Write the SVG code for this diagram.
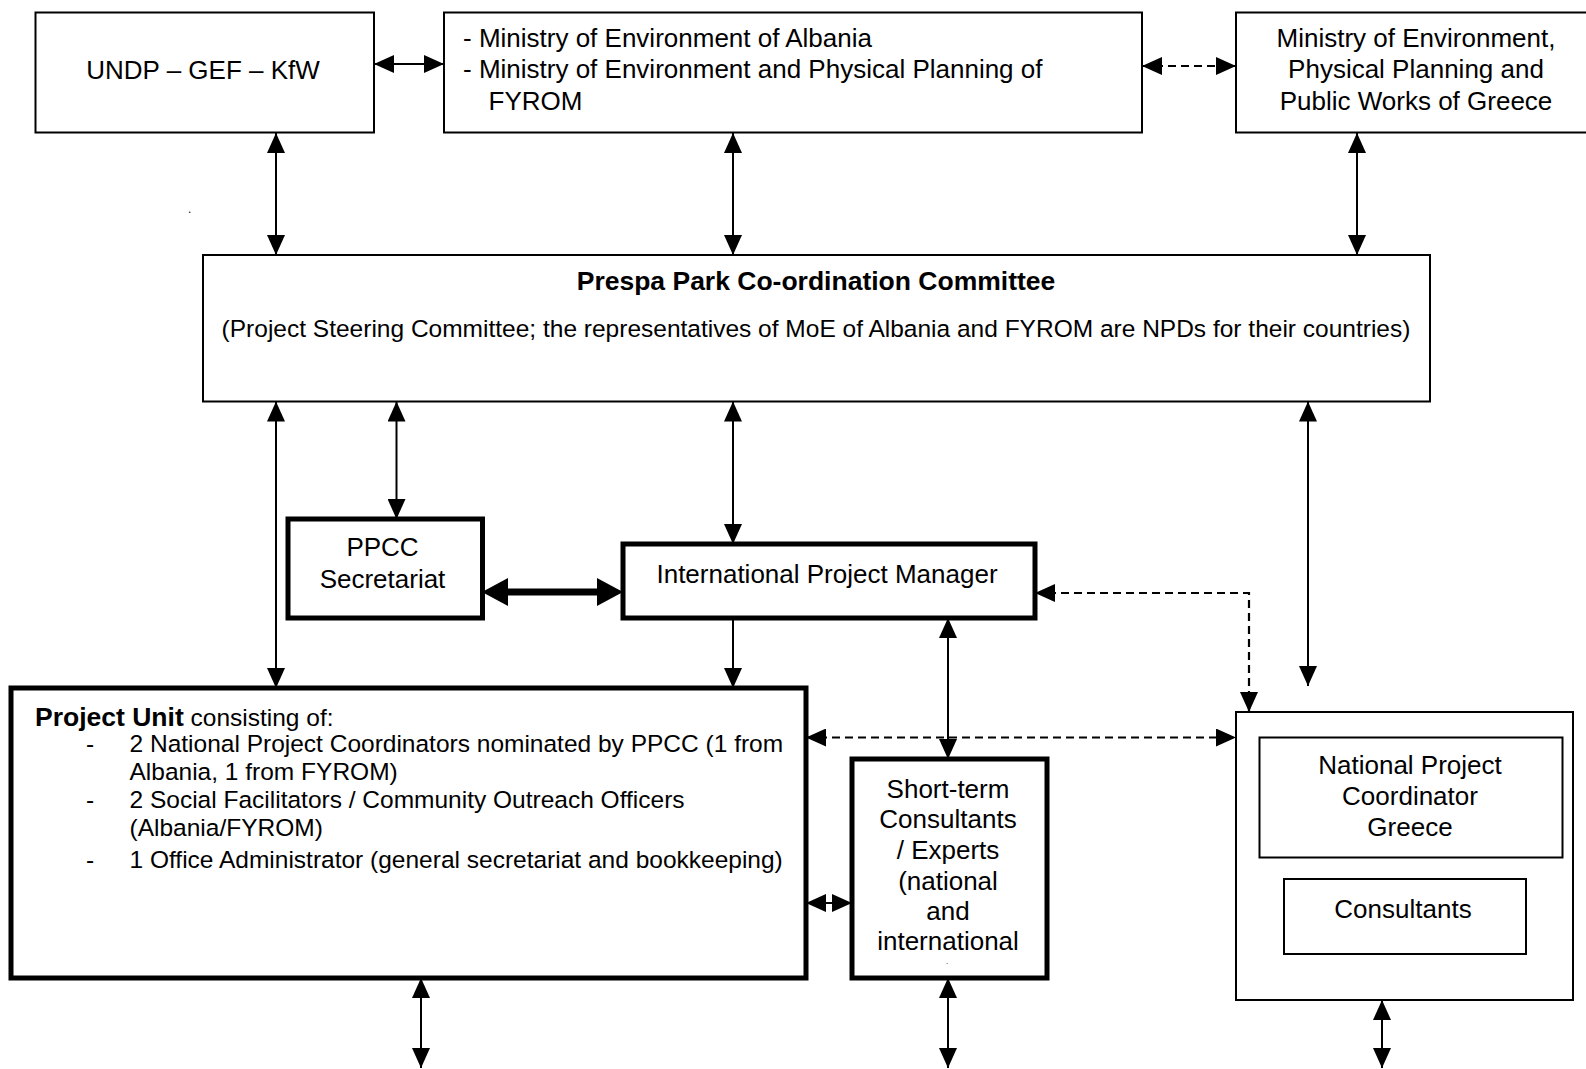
<svg xmlns="http://www.w3.org/2000/svg" width="1586" height="1069" viewBox="0 0 1586 1069">
<style>
text{font-family:"Liberation Sans",Arial,sans-serif;font-size:26px;fill:#000}
.b{font-weight:bold}
.c{text-anchor:middle}
.s{font-size:24.5px}
.thin{fill:#fff;stroke:#000;stroke-width:2}
.thick{fill:#fff;stroke:#000;stroke-width:5}
.ln{fill:none;stroke:#000;stroke-width:2}
.ds{fill:none;stroke:#000;stroke-width:2.2;stroke-dasharray:8 5}
</style>
<defs>
<marker id="ah" markerUnits="userSpaceOnUse" markerWidth="20" markerHeight="18" refX="20" refY="9" orient="auto-start-reverse">
<path d="M0,0 L20,9 L0,18 z" fill="#000"/>
</marker>
</defs>
<rect width="1586" height="1069" fill="#fff"/>
<g id="connectors">
<line class="ln" x1="374" y1="64" x2="444" y2="64" marker-start="url(#ah)" marker-end="url(#ah)"/>
<line class="ds" x1="1142" y1="66" x2="1236" y2="66" marker-start="url(#ah)" marker-end="url(#ah)"/>
<line class="ln" x1="276" y1="133" x2="276" y2="255" marker-start="url(#ah)" marker-end="url(#ah)"/>
<line class="ln" x1="733" y1="133" x2="733" y2="255" marker-start="url(#ah)" marker-end="url(#ah)"/>
<line class="ln" x1="1357" y1="133" x2="1357" y2="255" marker-start="url(#ah)" marker-end="url(#ah)"/>
<line class="ln" x1="276" y1="401.5" x2="276" y2="688" marker-start="url(#ah)" marker-end="url(#ah)"/>
<line class="ln" x1="396.5" y1="401.5" x2="396.5" y2="519" marker-start="url(#ah)" marker-end="url(#ah)"/>
<line class="ln" x1="733" y1="401.5" x2="733" y2="544" marker-start="url(#ah)" marker-end="url(#ah)"/>
<line class="ln" x1="1308" y1="401.5" x2="1308" y2="686" marker-start="url(#ah)" marker-end="url(#ah)"/>
<line class="ln" x1="733" y1="618" x2="733" y2="688" marker-end="url(#ah)"/>
<line class="ln" x1="948" y1="618" x2="948" y2="759" marker-start="url(#ah)" marker-end="url(#ah)"/>
<path class="ds" d="M1035,593 H1249 V712" marker-start="url(#ah)" marker-end="url(#ah)"/>
<line class="ds" x1="806" y1="737.5" x2="1236" y2="737.5" marker-start="url(#ah)" marker-end="url(#ah)"/>
<line class="ln" x1="806" y1="903" x2="852" y2="903" marker-start="url(#ah)" marker-end="url(#ah)"/>
<line class="ln" x1="421" y1="978" x2="421" y2="1068" marker-start="url(#ah)" marker-end="url(#ah)"/>
<line class="ln" x1="948" y1="978" x2="948" y2="1068" marker-start="url(#ah)" marker-end="url(#ah)"/>
<line class="ln" x1="1382" y1="1000" x2="1382" y2="1068" marker-start="url(#ah)" marker-end="url(#ah)"/>
<line x1="505" y1="592" x2="600" y2="592" stroke="#000" stroke-width="7"/>
<polygon points="482,592 508,578 508,606" fill="#000"/>
<polygon points="623,592 597,578 597,606" fill="#000"/>
</g>
<g id="undp">
<rect class="thin" x="35.5" y="12.5" width="338.5" height="120"/>
<text class="c" x="203" y="79">UNDP – GEF – KfW</text>
</g>
<g id="ministries">
<rect class="thin" x="444" y="12.5" width="698" height="120"/>
<text x="463" y="47">- Ministry of Environment of Albania</text>
<text x="463" y="78">- Ministry of Environment and Physical Planning of</text>
<text x="488.6" y="110">FYROM</text>
</g>
<g id="greece-ministry">
<rect class="thin" x="1236" y="12.5" width="360" height="120"/>
<text class="c" x="1416" y="47">Ministry of Environment,</text>
<text class="c" x="1416" y="78">Physical Planning and</text>
<text class="c" x="1416" y="110">Public Works of Greece</text>
</g>
<text x="188" y="213" style="font-size:12px">.</text>
<g id="ppcc">
<rect class="thin" x="203" y="255" width="1227" height="146.5"/>
<text class="c b" x="816" y="290" style="font-size:26.5px">Prespa Park Co-ordination Committee</text>
<text class="c s" x="816" y="337">(Project Steering Committee; the representatives of MoE of Albania and FYROM are NPDs for their countries)</text>
</g>
<g id="secretariat">
<rect class="thick" x="288" y="519" width="194.5" height="99"/>
<text class="c" x="382.5" y="556">PPCC</text>
<text class="c" x="382.5" y="588">Secretariat</text>
</g>
<g id="ipm">
<rect class="thick" x="623" y="544" width="412" height="74"/>
<text class="c" x="827" y="582.5">International Project Manager</text>
</g>
<g id="project-unit">
<rect class="thick" x="11" y="688" width="795" height="290"/>
<text class="s" x="35" y="725.5"><tspan class="b" style="font-size:26.5px">Project Unit</tspan> consisting of:</text>
<text class="s" x="86" y="752">-</text>
<text class="s" x="129.5" y="752">2 National Project Coordinators nominated by PPCC (1 from</text>
<text class="s" x="129.5" y="780">Albania, 1 from FYROM)</text>
<text class="s" x="86" y="807.7">-</text>
<text class="s" x="129.5" y="807.7">2 Social Facilitators / Community Outreach Officers</text>
<text class="s" x="129.5" y="836">(Albania/FYROM)</text>
<text class="s" x="86" y="868">-</text>
<text class="s" x="129.5" y="868">1 Office Administrator (general secretariat and bookkeeping)</text>
</g>
<g id="short-term">
<rect class="thick" x="852" y="759" width="195" height="219"/>
<text class="c" x="948" y="797.6">Short-term</text>
<text class="c" x="948" y="828">Consultants</text>
<text class="c" x="948" y="858.5">/ Experts</text>
<text class="c" x="948" y="889.6">(national</text>
<text class="c" x="948" y="920">and</text>
<text class="c" x="948" y="950">international</text>
<text class="c" x="947" y="964" style="font-size:8px">.</text>
</g>
<g id="greece-unit">
<rect class="thin" x="1236" y="712" width="337" height="288"/>
<g id="npc-greece">
<rect class="thin" x="1259.5" y="737.5" width="303" height="120"/>
<text class="c" x="1410" y="774">National Project</text>
<text class="c" x="1410" y="804.6">Coordinator</text>
<text class="c" x="1410" y="836">Greece</text>
</g>
<g id="consultants">
<rect class="thin" x="1284" y="879" width="242" height="75"/>
<text class="c" x="1403" y="918">Consultants</text>
</g>
</g>
</svg>
